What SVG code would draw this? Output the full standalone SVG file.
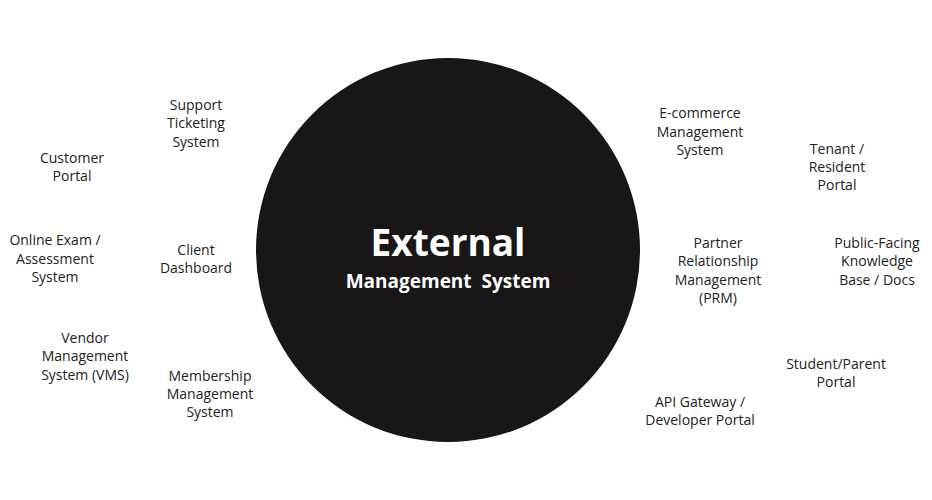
<svg xmlns="http://www.w3.org/2000/svg" width="932" height="500" viewBox="0 0 932 500">
<style>
.l{font-family:"Open Sans","Liberation Sans",sans-serif;font-size:14px;fill:#222;text-anchor:middle}
.t{font-family:"Open Sans","Liberation Sans",sans-serif;fill:#fff;text-anchor:middle;font-weight:bold}
</style>
<rect width="932" height="500" fill="#fff"/>
<g id="center"><circle cx="448" cy="250" r="192" fill="#181617"/>
<text class="t" x="448" y="256" font-size="37">External</text>
<text class="t" x="448" y="288" font-size="19" xml:space="preserve">Management  System</text></g>
<g id="n1"><text class="l" x="196" y="110">Support</text><text class="l" x="196" y="128">Ticketing</text><text class="l" x="196" y="147">System</text></g>
<g id="n2"><text class="l" x="72" y="163">Customer</text><text class="l" x="72" y="181">Portal</text></g>
<g id="n3"><text class="l" x="55" y="245">Online Exam /</text><text class="l" x="55" y="264">Assessment</text><text class="l" x="55" y="282">System</text></g>
<g id="n4"><text class="l" x="196" y="255">Client</text><text class="l" x="196" y="273">Dashboard</text></g>
<g id="n5"><text class="l" x="85" y="343">Vendor</text><text class="l" x="85" y="361">Management</text><text class="l" x="85" y="380">System (VMS)</text></g>
<g id="n6"><text class="l" x="210" y="381">Membership</text><text class="l" x="210" y="399">Management</text><text class="l" x="210" y="417">System</text></g>
<g id="n7"><text class="l" x="700" y="118">E-commerce</text><text class="l" x="700" y="137">Management</text><text class="l" x="700" y="155">System</text></g>
<g id="n8"><text class="l" x="837" y="154">Tenant /</text><text class="l" x="837" y="172">Resident</text><text class="l" x="837" y="190">Portal</text></g>
<g id="n9"><text class="l" x="718" y="248">Partner</text><text class="l" x="718" y="266">Relationship</text><text class="l" x="718" y="285">Management</text><text class="l" x="718" y="303">(PRM)</text></g>
<g id="n10"><text class="l" x="877" y="248">Public-Facing</text><text class="l" x="877" y="266">Knowledge</text><text class="l" x="877" y="285">Base / Docs</text></g>
<g id="n11"><text class="l" x="836" y="369">Student/Parent</text><text class="l" x="836" y="387">Portal</text></g>
<g id="n12"><text class="l" x="700" y="407">API Gateway /</text><text class="l" x="700" y="425">Developer Portal</text></g>
<g id="connectors"/>
</svg>
